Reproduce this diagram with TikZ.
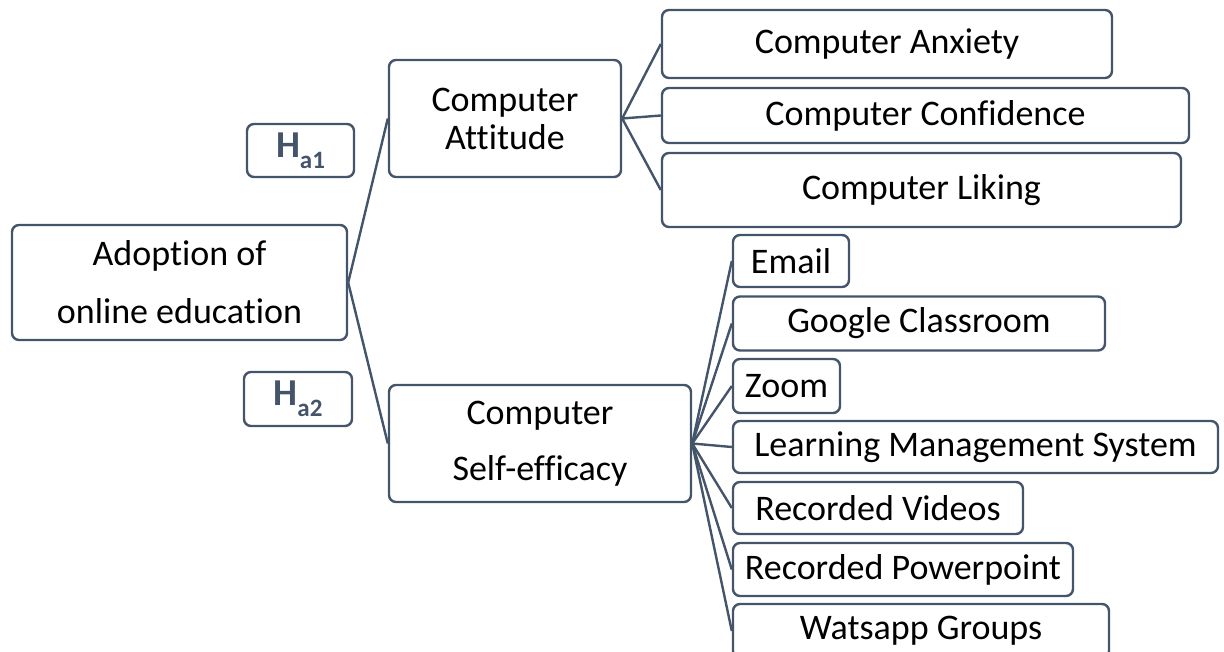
\documentclass[tikz,border=0pt]{standalone}
\usepackage{fontspec}
\setmainfont{Carlito}[RawFeature={-liga;-clig;-calt;-dlig}]
\definecolor{frame}{RGB}{68,84,106}
\begin{document}
\begin{tikzpicture}[x=1pt,y=-1pt,
  box/.style={draw=frame, line width=2.4pt, rounded corners=7pt, inner sep=0pt,
    anchor=center, text=black, font=\fontsize{36}{43}\selectfont},
  hyp/.style={box, text=frame, font=\bfseries\fontsize{38}{43}\selectfont},
  link/.style={draw=frame, line width=2.4pt}]
\useasboundingbox (0,0) rectangle (1224,652);
\clip (0,0) rectangle (1224,652);
% main nodes
\node[box, minimum width=335pt, minimum height=115pt, align=center,
  font=\fontsize{36}{58}\selectfont] (adopt) at (179.5,282.5) {Adoption of\\online education};
\node[box, minimum width=232pt, minimum height=117pt, align=center,
  font=\fontsize{36}{38}\selectfont] (att) at (505,118.5) {Computer\\Attitude};
\node[box, minimum width=302pt, minimum height=117pt, align=center,
  font=\fontsize{36}{56}\selectfont] (self) at (540,443.5) {Computer\\Self-efficacy};
% hypotheses
\node[hyp, minimum width=107pt, minimum height=53pt] (ha1) at (300.5,150.5)
  {H\raisebox{-0.28em}{\fontsize{25}{25}\selectfont a1}};
\node[hyp, minimum width=108pt, minimum height=54pt] (ha2) at (298,399)
  {H\raisebox{-0.28em}{\fontsize{25}{25}\selectfont a2}};
% attitude children
\node[box, minimum width=450pt, minimum height=68pt] (anx) at (887,44) {Computer Anxiety};
\node[box, minimum width=527pt, minimum height=55pt] (conf) at (925.5,115.5) {Computer Confidence};
\node[box, minimum width=519pt, minimum height=74pt] (like) at (921.5,190) {Computer Liking};
% self-efficacy children
\node[box, minimum width=116pt, minimum height=52pt] (email) at (791,261) {Email};
\node[box, minimum width=372pt, minimum height=54pt] (google) at (919,323.5) {Google Classroom};
\node[box, minimum width=107pt, minimum height=54pt] (zoom) at (786.5,386) {Zoom};
\node[box, minimum width=485pt, minimum height=52pt] (lms) at (975.5,447) {Learning Management System};
\node[box, minimum width=290pt, minimum height=52pt] (videos) at (878,508) {Recorded Videos};
\node[box, minimum width=340pt, minimum height=53pt] (ppt) at (903,569.5) {Recorded Powerpoint};
\node[box, minimum width=376pt, minimum height=54pt] (wa) at (921,631) {Watsapp Groups};
% connectors
\draw[link] (adopt.east) -- (att.west);
\draw[link] (adopt.east) -- (self.west);
\foreach \c in {anx,conf,like} \draw[link] (att.east) -- (\c.west);
\foreach \c in {email,google,zoom,lms,videos,ppt,wa} \draw[link] (self.east) -- (\c.west);
\end{tikzpicture}
\end{document}
